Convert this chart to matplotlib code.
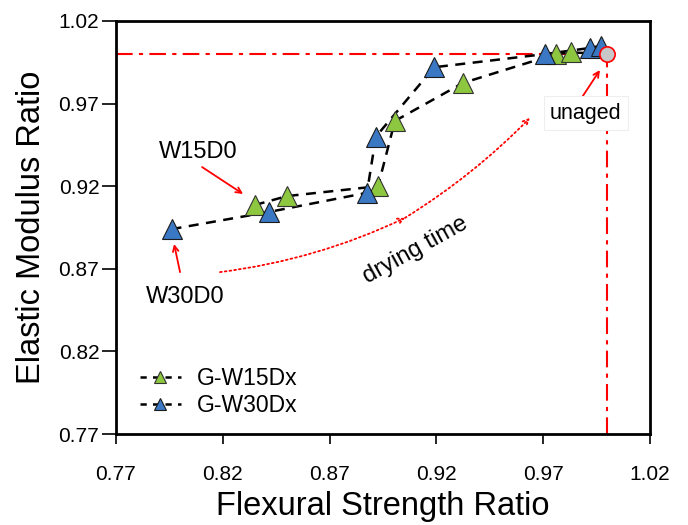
import matplotlib
matplotlib.use("Agg")
import matplotlib.pyplot as plt

plt.rcParams['font.family'] = ['Liberation Sans', 'DejaVu Sans']

# Data
w15_x = [0.835, 0.850, 0.8927, 0.9006, 0.9325, 0.976, 0.983]
w15_y = [0.9086, 0.914, 0.920, 0.9595, 0.9825, 1.000, 1.001]
w30_x = [0.796, 0.8416, 0.8875, 0.8917, 0.919, 0.971, 0.992, 0.997]
w30_y = [0.894, 0.9044, 0.916, 0.950, 0.992, 1.000, 1.0037, 1.005]
unaged_x = 1.0
unaged_y = 1.0
xticks = [0.77, 0.82, 0.87, 0.92, 0.97, 1.02]
yticks = [0.77, 0.82, 0.87, 0.92, 0.97, 1.02]

green = '#8DC63F'
blue = '#3B78C3'

fig = plt.figure(figsize=(6.88, 5.25), dpi=100)
ax = fig.add_axes([0.1686, 0.1733, 0.776, 0.7867])

# reference lines
dashdot = (0, (8, 3, 2, 3))
ax.plot([0.77, unaged_x], [unaged_y, unaged_y], color='red', ls=dashdot, lw=1.5, zorder=1)
ax.plot([unaged_x, unaged_x], [0.77, unaged_y], color='red', ls=dashdot, lw=1.5, zorder=1)

ax.plot(w15_x + [unaged_x], w15_y + [unaged_y], color='black', ls=(0, (4, 3)), lw=1.8, zorder=2)
ax.plot(w30_x + [unaged_x], w30_y + [unaged_y], color='black', ls=(0, (4, 3)), lw=1.8, zorder=2)
ax.plot(w15_x, w15_y, ls='none', marker='^', ms=14, mfc=green, mec='#333333', mew=0.8, zorder=3)
ax.plot(w30_x, w30_y, ls='none', marker='^', ms=14, mfc=blue, mec='#1a1a1a', mew=0.8, zorder=3)
ax.plot([unaged_x], [unaged_y], ls='none', marker='o', ms=11, mfc='#C8C8C8', mec='red', mew=1.2, zorder=4)

# legend handles
h1, = ax.plot([], [], color='black', ls=(0, (2.5, 2.5)), lw=1.8, marker='^', ms=9, mfc=green, mec='#333333', mew=0.8)
h2, = ax.plot([], [], color='black', ls=(0, (2.5, 2.5)), lw=1.8, marker='^', ms=9, mfc=blue, mec='#1a1a1a', mew=0.8)
ax.legend([h1, h2], ['G-W15Dx', 'G-W30Dx'], loc='lower left', frameon=False, fontsize=16.5,
          handlelength=1.75, handletextpad=0.7, bbox_to_anchor=(0.02, 0.008), labelspacing=0.18,
          borderaxespad=0.2)

# annotations
arrow = dict(arrowstyle='->', color='red', lw=1.3, shrinkA=0, shrinkB=0)
ax.text(0.8084, 0.9407, 'W15D0', fontsize=17, ha='center', va='center')
ax.annotate('', xy=(0.8295, 0.9153), xytext=(0.8103, 0.9316), arrowprops=arrow)
ax.text(0.8023, 0.8529, 'W30D0', fontsize=17, ha='center', va='center')
ax.annotate('', xy=(0.7972, 0.885), xytext=(0.80, 0.868), arrowprops=arrow)
ax.annotate('', xy=(0.9966, 0.9903), xytext=(0.988, 0.9734), arrowprops=arrow)
ax.text(0.990, 0.9643, 'unaged', fontsize=15.5, ha='center', va='center',
        bbox=dict(boxstyle='square,pad=0.3', fc='white', ec='#eeeeee', lw=0.8), zorder=5)
ax.annotate('', xy=(0.9053, 0.9008), xytext=(0.8187, 0.868),
            arrowprops=dict(arrowstyle='->', color='red', lw=1.3, ls=':', shrinkA=0, shrinkB=0,
                            connectionstyle='arc3,rad=0.08'))
ax.annotate('', xy=(0.9638, 0.9613), xytext=(0.9053, 0.9008),
            arrowprops=dict(arrowstyle='->', color='red', lw=1.3, ls=':', shrinkA=0, shrinkB=0,
                            connectionstyle='arc3,rad=0.06'))
ax.text(0.910, 0.8814, 'drying time', fontsize=17, rotation=29, ha='center', va='center')

ax.set_xlim(0.77, 1.02)
ax.set_ylim(0.77, 1.02)
ax.set_xticks(xticks)
ax.set_yticks(yticks)
ax.set_xticklabels([f'{v:.2f}' for v in xticks], fontsize=15)
ax.set_yticklabels([f'{v:.2f}' for v in yticks], fontsize=15)
ax.tick_params(direction='out', width=1.2)
ax.tick_params(axis='x', length=7, pad=15)
ax.tick_params(axis='y', length=10, pad=2)
for s in ax.spines.values():
    s.set_linewidth(2)
ax.set_xlabel('Flexural Strength Ratio', fontsize=23.5, labelpad=5)
ax.set_ylabel('Elastic Modulus Ratio', fontsize=23.5, labelpad=8)

fig.savefig('out.png', dpi=100)
